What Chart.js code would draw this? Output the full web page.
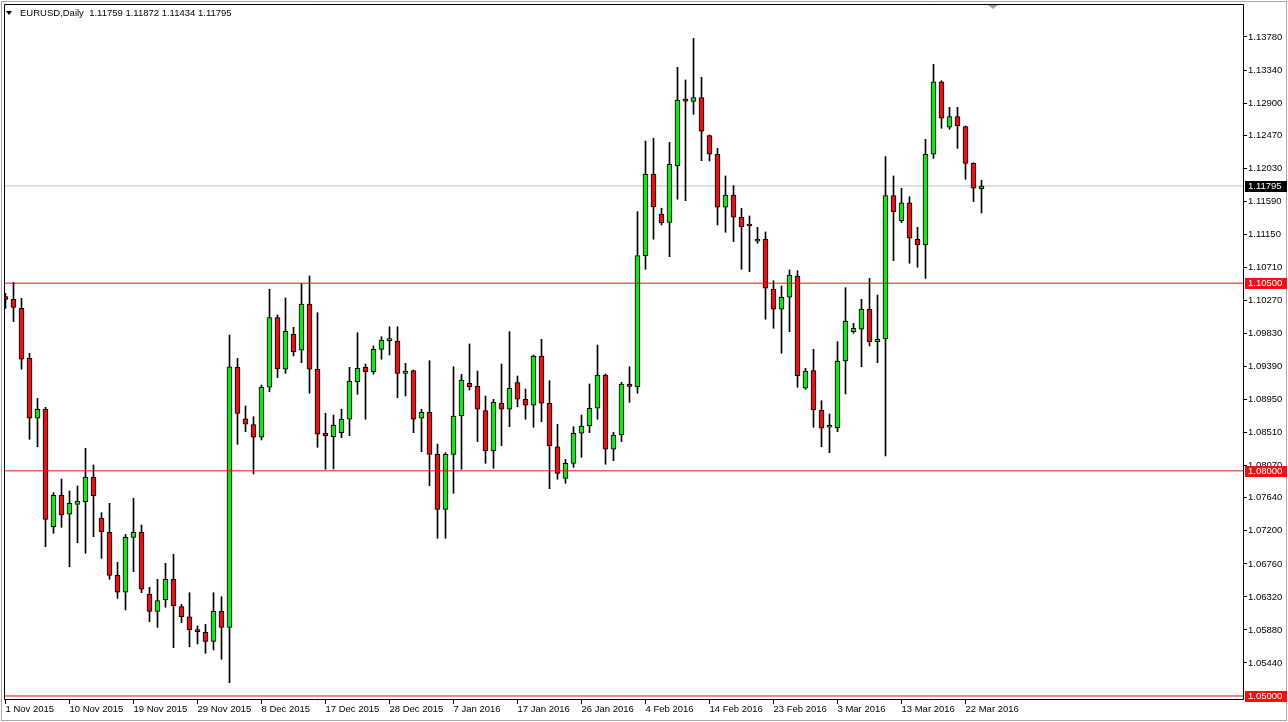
<!DOCTYPE html>
<html><head><meta charset="utf-8">
<script src="https://cdn.jsdelivr.net/npm/chart.js@4.4.0/dist/chart.umd.min.js"></script>
<style>html,body{margin:0;padding:0;background:#fff;overflow:hidden}canvas{display:block}</style>
</head><body>
<canvas id="c" width="1288" height="722"></canvas>
<script>
const symbolTitle = 'EURUSD,Daily';
const lastQuote = [1.11759, 1.11872, 1.11434, 1.11795];
const lastPrice = 1.11795;
const levels = [1.105, 1.08, 1.05];

const tickBars = [0, 8, 16, 24, 32, 40, 48, 56, 64, 72, 80, 88, 96, 104, 112, 120];
const tickDates = ['1 Nov 2015', '10 Nov 2015', '19 Nov 2015', '29 Nov 2015', '8 Dec 2015', '17 Dec 2015',
  '28 Dec 2015', '7 Jan 2016', '17 Jan 2016', '26 Jan 2016', '4 Feb 2016', '14 Feb 2016', '23 Feb 2016',
  '3 Mar 2016', '13 Mar 2016', '22 Mar 2016'];
const priceTicks = [1.13780, 1.13340, 1.12900, 1.12470, 1.12030, 1.11590, 1.11150, 1.10710, 1.10270, 1.09830,
  1.09390, 1.08950, 1.08510, 1.08070, 1.07640, 1.07200, 1.06760, 1.06320, 1.05880, 1.05440];

const opens = [1.1032, 1.10285, 1.10165, 1.09499, 1.087, 1.0882, 1.07256, 1.07674, 1.07421, 1.07554,
  1.07589, 1.07914, 1.07368, 1.07181, 1.06608, 1.06382, 1.07114, 1.07181, 1.06359, 1.06128,
  1.06279, 1.06555, 1.0619, 1.06056, 1.05862, 1.05848, 1.05728, 1.06128, 1.05914, 1.09379,
  1.08694, 1.08615, 1.08447, 1.09113, 1.1004, 1.09353, 1.09819, 1.09606, 1.10223, 1.09353,
  1.085, 1.08455, 1.08508, 1.08687, 1.09187, 1.09379, 1.09321, 1.09619, 1.09734, 1.0973,
  1.09299, 1.09334, 1.087, 1.0878, 1.0822, 1.07487, 1.0822, 1.0873, 1.09166, 1.09126,
  1.08801, 1.08268, 1.089, 1.0882, 1.09174, 1.08953, 1.08873, 1.0953, 1.089, 1.08321,
  1.079, 1.081, 1.085, 1.08597, 1.08833, 1.09277, 1.08287, 1.08477, 1.09157, 1.09121,
  1.10866, 1.11955, 1.11422, 1.11311, 1.12065, 1.12932, 1.12923, 1.12971, 1.12465, 1.12217,
  1.11511, 1.11675, 1.11378, 1.11266, 1.11058, 1.11085, 1.10419, 1.10152, 1.10312, 1.10596,
  1.091, 1.09334, 1.0881, 1.0858, 1.08575, 1.09463, 1.09854, 1.09886, 1.10152, 1.0972,
  1.09756, 1.11666, 1.11332, 1.11572, 1.11085, 1.11009, 1.12217, 1.13184, 1.12577, 1.12718,
  1.12585, 1.12097, 1.11759];
const highs = [1.10365, 1.10512, 1.10298, 1.09566, 1.08965, 1.08847, 1.07709, 1.07891, 1.07731, 1.07798,
  1.08299, 1.08078, 1.07443, 1.07567, 1.06781, 1.07154, 1.07634, 1.07278, 1.06448, 1.06555,
  1.06768, 1.06888, 1.06222, 1.06376, 1.05933, 1.05956, 1.06376, 1.06323, 1.0981, 1.09499,
  1.08864, 1.08721, 1.09143, 1.10418, 1.10076, 1.10303, 1.09912, 1.10498, 1.10596, 1.10107,
  1.08766, 1.08744, 1.0882, 1.09379, 1.0984, 1.09423, 1.09663, 1.09787, 1.0992, 1.0992,
  1.09433, 1.09343, 1.0882, 1.09467, 1.08357, 1.08241, 1.09387, 1.09286, 1.0969, 1.0933,
  1.08997, 1.08953, 1.09423, 1.09854, 1.09263, 1.0909, 1.09543, 1.09752, 1.09201, 1.0862,
  1.08154, 1.08588, 1.08744, 1.09157, 1.09676, 1.0929, 1.08513, 1.09179, 1.09387, 1.11452,
  1.12394, 1.1243, 1.11498, 1.12377, 1.13376, 1.13207, 1.13762, 1.13243, 1.12474, 1.12297,
  1.11928, 1.11799, 1.11498, 1.11395, 1.11245, 1.11182, 1.10533, 1.10462, 1.10676, 1.10666,
  1.09366, 1.09619, 1.08934, 1.08757, 1.0972, 1.1044, 1.09966, 1.10285, 1.10565, 1.10343,
  1.12185, 1.11928, 1.11764, 1.11652, 1.11245, 1.12417, 1.13416, 1.13197, 1.12843, 1.12843,
  1.12594, 1.12105, 1.11872];
const lows = [1.10165, 1.09987, 1.09353, 1.0842, 1.08321, 1.06989, 1.07168, 1.07247, 1.06723, 1.07042,
  1.06901, 1.07122, 1.06835, 1.06555, 1.06302, 1.06146, 1.06656, 1.06376, 1.0599, 1.05914,
  1.06182, 1.05643, 1.05977, 1.05656, 1.05693, 1.05569, 1.05613, 1.05489, 1.05177, 1.08353,
  1.08521, 1.07958, 1.08411, 1.09054, 1.09241, 1.09299, 1.0953, 1.09441, 1.09033, 1.08313,
  1.0802, 1.08024, 1.08441, 1.08468, 1.0902, 1.08687, 1.09286, 1.09486, 1.09543, 1.08974,
  1.08997, 1.08508, 1.08255, 1.07802, 1.07101, 1.07101, 1.07701, 1.0802, 1.09077, 1.08388,
  1.081, 1.08034, 1.08335, 1.08588, 1.08854, 1.08687, 1.0858, 1.08655, 1.07762, 1.07887,
  1.07834, 1.08047, 1.0818, 1.08508, 1.08687, 1.08087, 1.08135, 1.08388, 1.08913, 1.09033,
  1.10685, 1.11085, 1.11275, 1.10853, 1.11618, 1.11599, 1.1275, 1.12132, 1.12128, 1.11275,
  1.11178, 1.11053, 1.10685, 1.10653, 1.11031, 1.10019, 1.09899, 1.09566, 1.09854, 1.09113,
  1.09086, 1.0858, 1.08321, 1.08241, 1.08521, 1.09024, 1.09832, 1.09387, 1.09663, 1.09441,
  1.08198, 1.108, 1.11306, 1.10765, 1.10712, 1.10565, 1.12164, 1.12564, 1.1255, 1.12297,
  1.11884, 1.11586, 1.11434];
const closes = [1.10285, 1.10178, 1.09486, 1.087, 1.0882, 1.07354, 1.07674, 1.07411, 1.07567, 1.07598,
  1.07914, 1.07669, 1.07189, 1.06608, 1.06382, 1.07114, 1.07181, 1.06422, 1.06128, 1.0627,
  1.06555, 1.06199, 1.06056, 1.05879, 1.05857, 1.05728, 1.06128, 1.05914, 1.09387, 1.08766,
  1.0862, 1.08447, 1.09113, 1.1004, 1.09357, 1.09859, 1.09587, 1.10223, 1.09353, 1.08487,
  1.08464, 1.08611, 1.08687, 1.09193, 1.09366, 1.09321, 1.09619, 1.09743, 1.09738, 1.09299,
  1.0933, 1.08687, 1.0878, 1.0822, 1.07487, 1.0822, 1.0873, 1.0921, 1.09121, 1.0882,
  1.08268, 1.08913, 1.0882, 1.091, 1.08953, 1.08873, 1.0953, 1.089, 1.08331, 1.07967,
  1.081, 1.085, 1.08597, 1.08833, 1.09277, 1.08287, 1.08477, 1.09157, 1.09126, 1.10866,
  1.11955, 1.11519, 1.11306, 1.12084, 1.1294, 1.12925, 1.12971, 1.12524, 1.12217, 1.11511,
  1.11675, 1.11378, 1.11253, 1.11262, 1.11089, 1.10432, 1.10152, 1.10312, 1.10609, 1.09267,
  1.0933, 1.0881, 1.08567, 1.08585, 1.09463, 1.09996, 1.09899, 1.10152, 1.0972, 1.09752,
  1.11666, 1.11452, 1.11572, 1.11098, 1.11009, 1.12217, 1.13184, 1.12697, 1.12718, 1.12594,
  1.12097, 1.11764, 1.11795];

const FONT = 'Liberation Sans, Arial, sans-serif';
const FSIZE = 9.5;
const xMin = -0.1875, xMax = 154.6875;
const yMin = 1.049467, yMax = 1.142193;
const GREEN = '#22dd22', RED = '#e01515', LEVEL = '#e01010';

const bodyData = opens.map((o, i) => ({x: i, y: [o, closes[i]]}));
const wickData = lows.map((l, i) => ({x: i, y: [l, highs[i]]}));
const hline = v => [{x: xMin, y: v}, {x: xMax, y: v}];

const framePlugin = {
  id: 'frame',
  beforeDraw(chart) {
    const c = chart.ctx;
    c.save(); c.fillStyle = '#fff'; c.fillRect(0, 0, chart.width, chart.height); c.restore();
  },
  afterDraw(chart) {
    const c = chart.ctx, a = chart.chartArea, ys = chart.scales.y;
    c.save();
    c.strokeStyle = '#a8a8a8'; c.lineWidth = 1;
    c.strokeRect(1.5, 1.5, chart.width - 3, chart.height - 3);
    c.strokeStyle = '#000';
    c.beginPath();
    c.moveTo(a.left + 0.5, a.bottom - 0.5); c.lineTo(a.left + 0.5, a.top + 0.5);
    c.lineTo(a.right + 0.5, a.top + 0.5); c.lineTo(a.right + 0.5, a.bottom - 0.5);
    c.lineTo(a.left + 0.5, a.bottom - 0.5);
    c.stroke();
    c.fillStyle = '#000';
    c.beginPath(); c.moveTo(6, 11); c.lineTo(12, 11); c.lineTo(9, 15); c.closePath(); c.fill();
    c.font = FSIZE + 'px ' + FONT; c.textBaseline = 'middle'; c.textAlign = 'left';
    c.fillText(symbolTitle + '  ' + lastQuote.map(v => v.toFixed(5)).join(' '), 20, 13);
    c.fillStyle = '#a0a0a0';
    c.beginPath(); c.moveTo(988, 5); c.lineTo(998, 5); c.lineTo(993, 9); c.closePath(); c.fill();
    const box = (v, bg) => {
      const py = Math.round(ys.getPixelForValue(v));
      c.fillStyle = bg; c.fillRect(a.right + 2, py - 5, 42, 11);
      c.fillStyle = '#fff'; c.fillText(v.toFixed(5), a.right + 5, py + 0.5);
    };
    box(lastPrice, '#000');
    levels.forEach(v => box(v, '#f01010'));
    c.restore();
  }
};

new Chart(document.getElementById('c').getContext('2d'), {
  type: 'bar',
  data: {
    datasets: [
      ...levels.map(v => ({type: 'line', data: hline(v), borderColor: LEVEL, borderWidth: 1, pointRadius: 0, order: 0})),
      {type: 'line', data: hline(lastPrice), borderColor: '#c0c0c0', borderWidth: 1, pointRadius: 0, order: 5},
      {type: 'bar', data: bodyData, grouped: false, barThickness: 5, borderWidth: 1, borderColor: '#000',
        borderSkipped: false, minBarLength: 2,
        backgroundColor: ctx => (closes[ctx.dataIndex] >= opens[ctx.dataIndex] ? GREEN : RED), order: 1},
      {type: 'bar', data: wickData, grouped: false, barThickness: 1, borderWidth: 0, backgroundColor: '#000', order: 2}
    ]
  },
  options: {
    responsive: false, animation: false, devicePixelRatio: 1,
    layout: {padding: {left: 4, top: 4, right: 0, bottom: 0}},
    plugins: {legend: {display: false}, tooltip: {enabled: false}},
    scales: {
      x: {
        type: 'linear', min: xMin, max: xMax, offset: false,
        afterBuildTicks: s => { s.ticks = tickBars.map(v => ({value: v})); },
        afterFit: s => { s.height = 22; },
        grid: {offset: false, drawOnChartArea: false, drawTicks: true, tickLength: 4, color: '#000'},
        border: {display: false},
        ticks: {autoSkip: false, maxRotation: 0, align: 'start', padding: 0, color: '#000',
          font: {family: FONT, size: FSIZE}, callback: (v, i) => tickDates[i]}
      },
      y: {
        position: 'right', min: yMin, max: yMax, beginAtZero: false,
        afterBuildTicks: s => { s.ticks = priceTicks.map(v => ({value: v})); },
        afterFit: s => { s.width = 45; },
        grid: {drawOnChartArea: false, drawTicks: true, tickLength: 4, color: '#000'},
        border: {display: false},
        ticks: {autoSkip: false, padding: 1, color: '#000', font: {family: FONT, size: FSIZE, lineHeight: 0.6},
          callback: v => Number(v).toFixed(5)}
      }
    }
  },
  plugins: [framePlugin]
});
</script>
</body></html>
